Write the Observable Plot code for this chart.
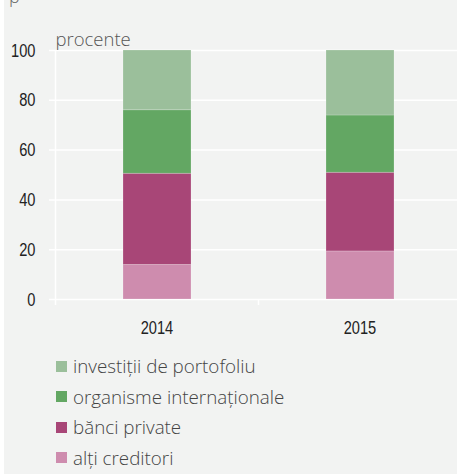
<!DOCTYPE html>
<html>
<head>
<meta charset="utf-8">
<script src="https://cdn.jsdelivr.net/npm/d3@7"></script>
<script src="https://cdn.jsdelivr.net/npm/@observablehq/plot@0.6"></script>
<style>
  html, body { margin: 0; padding: 0; background: #fff; overflow: hidden; }
  #wrap { position: relative; width: 457px; height: 474px; overflow: hidden;
    background: linear-gradient(to right, #ffffff 4px, #f2f3f2 4px); }
  #frag { position: absolute; left: 9px; top: -16px; font: 300 18px "Open Sans", sans-serif; color: #666; }
  #chart svg { display: block; }
  #legend { padding-top: 6px; padding-left: 56px; font-family: "Open Sans", sans-serif; font-weight: 300; font-size: 18.8px; color: #444; }
  .row { height: 30.5px; line-height: 30.5px; display: flex; align-items: center; }
  .sw { width: 11px; height: 11px; margin-right: 6px; flex: none; }
</style>
</head>
<body>
<div id="wrap">
  <div id="frag">p</div>
  <div id="chart"></div>
  <div id="legend"></div>
</div>
<script>
const years = ["2014", "2015"];
const series = ["alți creditori", "bănci private", "organisme internaționale", "investiții de portofoliu"];
const altiCreditori = [13.9, 19.3];
const banciPrivate = [36.6, 31.6];
const organismeInternationale = [25.5, 23.0];
const investitiiPortofoliu = [24.0, 26.1];
const colors = ["#ce8cae", "#a84677", "#63a763", "#9bbf9b"];
const yTicks = [0, 20, 40, 60, 80, 100];
const yLabel = "procente";

const valuesBySeries = [altiCreditori, banciPrivate, organismeInternationale, investitiiPortofoliu];
const data = [];
series.forEach((s, i) => years.forEach((y, j) => data.push({year: y, series: s, value: valuesBySeries[i][j]})));

const numFont = '"Liberation Sans", Arial, sans-serif';

const chart = Plot.plot({
  width: 457,
  height: 345,
  marginLeft: 55,
  marginRight: -4,
  marginTop: 50,
  marginBottom: 46,
  style: {background: "transparent", fontFamily: numFont, fontSize: "19px", color: "#222", overflow: "visible"},
  x: {domain: years, paddingInner: 0, paddingOuter: 0, label: null},
  y: {domain: [0, 100], ticks: yTicks, label: null},
  color: {domain: series, range: colors},
  marks: [
    Plot.ruleY(yTicks, {stroke: "#ffffff", strokeWidth: 1.5, insetLeft: -6}),
    Plot.ruleX([years[0]], {x: d => d, stroke: "#ffffff", strokeWidth: 1.5, y1: 100, y2: 0, insetBottom: -6, dx: -101.5}),
    Plot.ruleX([years[1]], {x: d => d, stroke: "#ffffff", strokeWidth: 1.5, y1: 0, y2: 0, insetBottom: -6, dx: -101.5}),
    Plot.barY(data, Plot.stackY({x: "year", y: "value", fill: "series", order: series, insetLeft: 68, insetRight: 67, stroke: "#ffffff", strokeOpacity: 0.25, strokeWidth: 0.8})),
    Plot.axisY({ticks: yTicks, tickSize: 0, tickPadding: 20, fontSize: 19, fill: "#222", stroke: "#222", strokeWidth: 0.35, className: "numax"}),
    Plot.axisX({tickSize: 0, tickPadding: 21, fontSize: 19, fill: "#222", stroke: "#222", strokeWidth: 0.35, className: "numax"}),
    Plot.text([yLabel], {frameAnchor: "top-left", dy: -5, lineAnchor: "bottom", text: d => d, textAnchor: "start", fontFamily: '"Open Sans", sans-serif', fontWeight: 300, fontSize: 18.5, fill: "#555"})
  ]
});
// condense the numeric tick labels (reference uses a condensed face)
chart.querySelectorAll(".numax text").forEach(t => {
  const tr = t.getAttribute("transform") || "";
  t.setAttribute("transform", tr + " scale(0.77,1)");
});
document.getElementById("chart").appendChild(chart);

const legend = document.getElementById("legend");
for (let i = series.length - 1; i >= 0; i--) {
  const row = document.createElement("div");
  row.className = "row";
  const sw = document.createElement("span");
  sw.className = "sw";
  sw.style.background = colors[i];
  const t = document.createElement("span");
  t.textContent = series[i];
  row.appendChild(sw);
  row.appendChild(t);
  legend.appendChild(row);
}
</script>
</body>
</html>
